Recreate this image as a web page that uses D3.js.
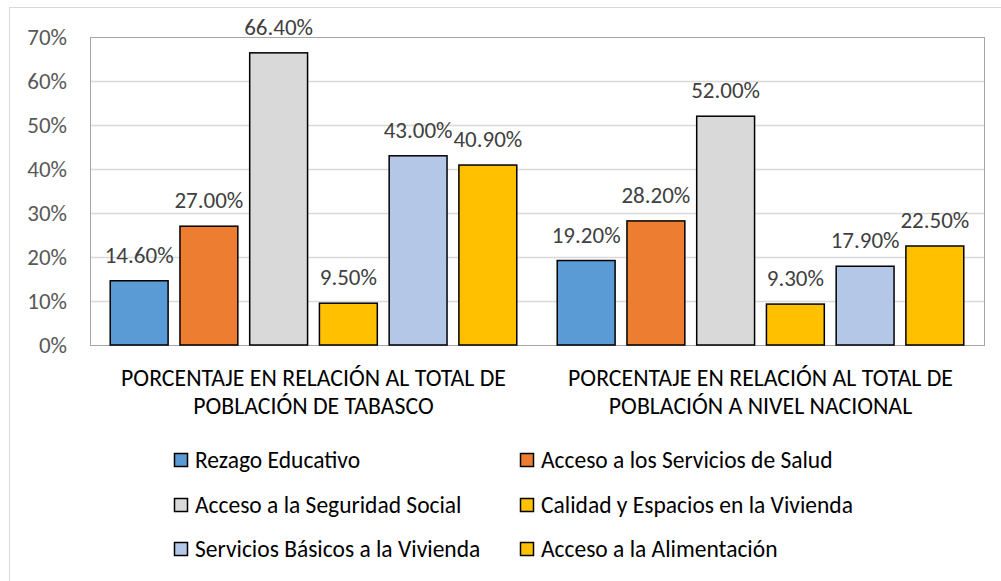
<!DOCTYPE html>
<html>
<head>
<meta charset="utf-8">
<script src="https://cdn.jsdelivr.net/npm/d3@7"></script>
<style>
  body { margin: 0; background: #fff; }
  svg { display: block; font-family: Carlito, Calibri, Lato, sans-serif; }
</style>
</head>
<body>
<svg id="chart" width="1001" height="581"></svg>
<script>
var categories = [
  ['PORCENTAJE EN RELACIÓN AL TOTAL DE', 'POBLACIÓN DE TABASCO'],
  ['PORCENTAJE EN RELACIÓN AL TOTAL DE', 'POBLACIÓN A NIVEL NACIONAL']
];
var seriesNames = [
  'Rezago Educativo',
  'Acceso a los Servicios de Salud',
  'Acceso a la Seguridad Social',
  'Calidad y Espacios en la Vivienda',
  'Servicios Básicos a la Vivienda',
  'Acceso a la Alimentación'
];
var tabascoValues = [14.6, 27.0, 66.4, 9.5, 43.0, 40.9];
var nacionalValues = [19.2, 28.2, 52.0, 9.3, 17.9, 22.5];
var seriesColors = ['#5b9bd5', '#ed7d31', '#d9d9d9', '#ffc000', '#b4c7e7', '#ffc000'];
var yTicks = [0, 10, 20, 30, 40, 50, 60, 70];

var svg = d3.select('#chart');
var plot = { left: 90, right: 984, top: 37, bottom: 345 };
var fontSize = '23px';

// chart frame
svg.append('rect')
  .attr('x', 9.5).attr('y', 7.5)
  .attr('width', 1010).attr('height', 600)
  .attr('fill', '#fff')
  .attr('stroke', '#d9d9d9');

var x0 = d3.scaleBand()
  .domain(d3.range(categories.length))
  .range([plot.left, plot.right]);

var x1 = d3.scaleBand()
  .domain(d3.range(seriesNames.length))
  .range([0, x0.bandwidth()])
  .paddingInner(0.17)
  .paddingOuter(0.29);

var y = d3.scaleLinear()
  .domain([0, 70])
  .range([plot.bottom, plot.top]);

// gridlines
svg.append('g')
  .selectAll('line')
  .data(yTicks.slice(1, -1))
  .enter().append('line')
  .attr('x1', plot.left).attr('x2', plot.right)
  .attr('y1', function(d) { return Math.round(y(d)) + 0.5; })
  .attr('y2', function(d) { return Math.round(y(d)) + 0.5; })
  .attr('stroke', '#d9d9d9')
  .attr('stroke-width', 1.3);

// plot area border
svg.append('rect')
  .attr('x', plot.left + 0.5).attr('y', plot.top + 0.5)
  .attr('width', plot.right - plot.left).attr('height', plot.bottom - plot.top)
  .attr('fill', 'none')
  .attr('stroke', '#a6a6a6')
  .attr('stroke-width', 1);

// y axis labels
var yAxis = d3.axisLeft(y)
  .tickValues(yTicks)
  .tickSize(0)
  .tickPadding(23)
  .tickFormat(function(d) { return d + '%'; });

var yg = svg.append('g')
  .attr('transform', 'translate(' + plot.left + ',0)')
  .call(yAxis);
yg.select('.domain').remove();
yg.selectAll('text')
  .attr('fill', '#595959')
  .style('font-family', 'Carlito, Calibri, Lato, sans-serif')
  .style('font-size', fontSize);

// bars
function groupData(d, i) {
  var vals = i == 0 ? tabascoValues : nacionalValues;
  return seriesNames.map(function(s, j) { return { s: j, v: vals[j] }; });
}

var groups = svg.append('g')
  .selectAll('g')
  .data(categories)
  .enter().append('g')
  .attr('transform', function(d, i) { return 'translate(' + x0(i) + ',0)'; });

groups.selectAll('rect')
  .data(groupData)
  .enter().append('rect')
  .attr('x', function(d) { return x1(d.s); })
  .attr('y', function(d) { return y(d.v); })
  .attr('width', x1.bandwidth())
  .attr('height', function(d) { return y(0) - y(d.v); })
  .attr('fill', function(d) { return seriesColors[d.s]; })
  .attr('stroke', '#000')
  .attr('stroke-width', 1.5);

groups.selectAll('text.val')
  .data(groupData)
  .enter().append('text')
  .attr('class', 'val')
  .attr('x', function(d) { return x1(d.s) + x1.bandwidth() / 2; })
  .attr('y', function(d) { return y(d.v) - 18; })
  .attr('text-anchor', 'middle')
  .attr('fill', '#404040')
  .style('font-size', fontSize)
  .text(function(d) { return d.v.toFixed(2) + '%'; });

// category labels, two lines each
var catLabels = svg.append('g')
  .selectAll('text')
  .data(categories)
  .enter().append('text')
  .attr('text-anchor', 'middle')
  .attr('fill', '#000')
  .style('font-size', '23.8px');
catLabels.selectAll('tspan')
  .data(function(d, i) { return d.map(function(line) { return { line: line, i: i }; }); })
  .enter().append('tspan')
  .attr('x', function(d) { return x0(d.i) + x0.bandwidth() / 2; })
  .attr('y', function(d, k) { return 386 + k * 28; })
  .text(function(d) { return d.line; });

// legend
var legendCols = [174, 520];
var legendRows = [460, 505, 549];
var legend = svg.append('g')
  .selectAll('g')
  .data(seriesNames)
  .enter().append('g')
  .attr('transform', function(d, i) {
    return 'translate(' + legendCols[i % 2] + ',' + legendRows[Math.floor(i / 2)] + ')';
  });
legend.append('rect')
  .attr('x', 0.5).attr('y', -6.5)
  .attr('width', 13).attr('height', 13)
  .attr('fill', function(d, i) { return seriesColors[i]; })
  .attr('stroke', '#000')
  .attr('stroke-width', 1.5);
legend.append('text')
  .attr('x', 21)
  .attr('y', 7.5)
  .attr('fill', '#000')
  .style('font-size', '23.5px')
  .text(function(d) { return d; });
</script>
</body>
</html>
